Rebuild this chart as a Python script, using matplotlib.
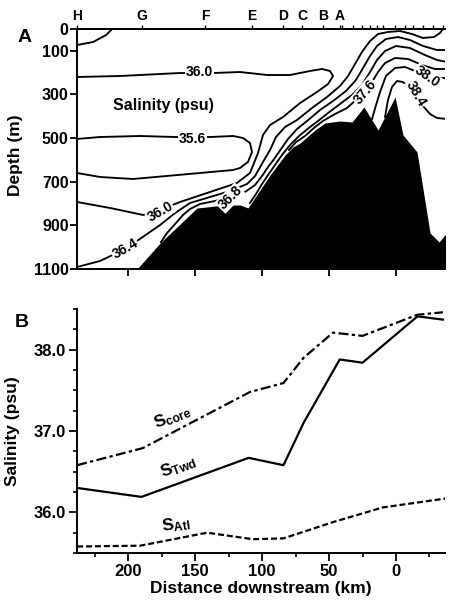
import matplotlib
matplotlib.use('Agg')
import matplotlib.pyplot as plt
from matplotlib.ticker import FixedLocator, FormatStrFormatter, MultipleLocator

plt.rcParams['font.family'] = ['Liberation Sans', 'DejaVu Sans']
plt.rcParams['font.weight'] = 'bold'
plt.rcParams['mathtext.fontset'] = 'custom'
plt.rcParams['mathtext.rm'] = 'Liberation Sans:bold'
plt.rcParams['mathtext.bf'] = 'Liberation Sans:bold'
plt.rcParams['mathtext.it'] = 'Liberation Sans:bold'

# ---------------- data ----------------
dist_lim = (238.1, -36.6)
depth_lim = (1100, 0)
sal_lim = (35.5, 38.5)
depth_ticks = [0, 100, 300, 500, 700, 900, 1100]
dist_ticks = [200, 150, 100, 50, 0]
sal_ticks = [36.0, 37.0, 38.0]

station_km = [238.0, 189.6, 142.5, 107.5, 84.3, 70.2, 54.5, 41.8]
station_names = ['H', 'G', 'F', 'E', 'D', 'C', 'B', 'A']
extra_station_km = [40.3, 32.1, 25.4, 19.4, 14.2, 9.7, 0.7, -6.7, -12.7, -20.1, -27.6, -35.1]

# bathymetry (black)
bathy_km = [193.3, 176.1, 148.5, 127.6, 116.4, 110.5, 94.0, 82.8, 76.9, 71.6, 60.4,
            53.0, 41.8, 32.8, 23.9, 13.4, 0.7, -5.2, -15.7, -25.4, -32.1, -41.8]
bathy_depth = [1100, 980.8, 820.4, 806.6, 806.6, 820.4, 669.1, 577.5, 540.8, 522.5, 462.9,
               430.8, 421.6, 426.2, 357.5, 462.9, 311.6, 485.8, 563.7, 935.0, 976.2, 907.4]

# salinity contours (psu), read from the section
c_surf_km = [238.1, 226.1, 216.4, 211.9]
c_surf_depth = [73.3, 59.6, 27.5, 0.0]

c356_km = [238.1, 220.9, 191.1, 164.9, 138.8, 121.6, 114.2, 109.0, 107.5, 110.5, 116.4,
           121.6, 146.3, 196.3, 220.9, 238.1]
c356_depth = [504.1, 495.0, 490.4, 495.0, 495.0, 490.4, 499.5, 522.5, 563.7, 609.5, 637.0,
              646.2, 660.0, 687.5, 678.3, 660.0]

c360_km = [238.1, 206.0, 161.2, 136.6, 116.4, 96.3, 79.1, 64.2, 55.2, 49.3, 47.0, 50.7,
           59.0, 71.6, 84.3, 94.0, 99.3, 103.0, 109.0, 118.7, 138.8, 161.2, 176.1, 188.8,
           213.4, 238.1]
c360_depth = [220.0, 215.4, 201.7, 201.7, 197.1, 210.8, 210.8, 192.5, 183.3, 192.5, 215.4,
              252.1, 288.7, 339.1, 403.3, 440.0, 485.8, 568.3, 660.0, 705.8, 747.0, 792.9,
              829.5, 852.4, 820.4, 792.9]

c364_km = [238.1, 220.9, 202.2, 185.8, 176.1, 164.9, 153.7, 138.8, 123.9, 111.2, 105.2,
           99.3, 94.0, 89.6, 82.8, 73.9, 62.7, 51.5, 41.8, 35.8, 30.6, 25.4, 19.4, 13.4,
           6.0, -3.0, -11.9, -20.1, -28.4, -32.8, -35.1]
c364_depth = [1090.8, 1063.3, 1008.3, 939.6, 898.3, 843.3, 797.4, 770.0, 742.5, 710.4,
              673.7, 609.5, 554.5, 495.0, 449.1, 417.1, 362.1, 311.6, 261.2, 215.4, 160.4,
              105.4, 55.0, 22.9, 13.7, 9.2, 22.9, 41.2, 36.7, 18.3, 0.0]

c368_km = [175.4, 170.9, 164.9, 159.0, 153.7, 146.3, 135.1, 123.9, 112.7, 105.2, 100.0,
           95.5, 91.0, 85.8, 80.6, 73.9, 66.4, 56.7, 47.0, 37.3, 29.9, 24.6, 19.4, 14.2,
           7.5, -1.5, -10.4, -20.1, -30.6, -38.1]
c368_depth = [976.2, 935.0, 893.7, 852.4, 825.0, 802.0, 788.3, 770.0, 747.0, 715.0, 673.7,
              632.5, 595.8, 550.0, 504.1, 458.3, 421.6, 371.2, 330.0, 284.1, 233.7, 178.7,
              123.7, 77.9, 45.8, 36.7, 50.4, 77.9, 96.2, 96.2]

c372_km = [109.0, 104.5, 100.0, 95.5, 90.3, 85.1, 79.1, 72.4, 64.2, 58.2, 50.7, 41.8, 32.8,
           25.4, 19.4, 14.2, 8.2, 0.0, -10.4, -21.6, -30.6, -38.1]
c372_depth = [797.4, 756.2, 710.4, 669.1, 623.3, 577.5, 531.6, 490.4, 449.1, 421.6, 385.0,
              343.7, 302.5, 256.6, 197.1, 142.1, 100.8, 77.9, 87.1, 119.2, 142.1, 151.2]

c376_km = [79.9, 74.6, 67.9, 60.4, 54.5, 45.5, 36.6, 29.9, 23.1, 17.9, 13.4, 8.2, 0.7,
           -9.0, -19.4, -29.1, -38.1]
c376_depth = [554.5, 517.9, 490.4, 449.1, 421.6, 389.5, 362.1, 325.4, 288.7, 242.9, 197.1,
              155.8, 132.9, 137.5, 165.0, 183.3, 183.3]

c380_km = [17.9, 14.9, 11.9, 7.5, 0.7, -6.7, -14.2, -23.1, -30.6, -38.1]
c380_depth = [412.5, 348.3, 288.7, 215.4, 178.7, 174.2, 192.5, 220.0, 224.6, 224.6]

c384_km = [8.2, 6.0, 3.0, -0.7, -5.2, -9.7, -14.9, -20.1, -25.4, -30.6, -38.1]
c384_depth = [403.3, 325.4, 265.8, 238.3, 242.9, 270.4, 297.9, 352.9, 389.5, 407.9, 412.5]

# contour labels: text, distance, depth, rotation
clabel_text = ['36.0', '35.6', '36.0', '36.4', '36.8', '37.6', '38.0', '38.4']
clabel_km = [147.0, 152.2, 176.1, 202.2, 123.9, 23.1, -23.1, -14.9]
clabel_depth = [197.1, 504.1, 838.7, 1008.3, 774.5, 288.7, 220.0, 297.9]
clabel_rot = [0, 0, 30, 30, 45, 50, -35, -60]

# panel B salinity series
dist_core = [238, 189, 109, 84, 69, 47, 25, -16, -35]
s_core = [36.58, 36.79, 37.48, 37.59, 37.90, 38.21, 38.17, 38.43, 38.46]
dist_twd = [238, 190, 110, 84, 69, 42, 25, -16, -35]
s_twd = [36.30, 36.19, 36.67, 36.58, 37.10, 37.88, 37.84, 38.41, 38.37]
dist_atl = [238, 191, 141, 107, 84, 47, 10, -37]
s_atl = [35.58, 35.59, 35.75, 35.67, 35.68, 35.88, 36.06, 36.17]

# ---------------- figure ----------------
fig = plt.figure(figsize=(4.52, 6.03), dpi=100)
ax1 = fig.add_axes([0.1704, 0.5539, 0.8142, 0.398])
ax2 = fig.add_axes([0.1704, 0.0829, 0.8142, 0.4046])

lw = 1.35
# ---- panel A
ax1.fill_between(bathy_km, bathy_depth, 1100, color='black', lw=0, zorder=2)
for xs, ys in [(c_surf_km, c_surf_depth), (c356_km, c356_depth), (c360_km, c360_depth),
               (c364_km, c364_depth), (c368_km, c368_depth), (c372_km, c372_depth),
               (c376_km, c376_depth), (c380_km, c380_depth), (c384_km, c384_depth)]:
    ax1.plot(xs, ys, color='black', lw=lw, zorder=3, solid_joinstyle='round')
for t, xk, yd, r in zip(clabel_text, clabel_km, clabel_depth, clabel_rot):
    ax1.text(xk, yd, t, fontsize=10, fontweight='bold', rotation=r, ha='center',
             va='center', rotation_mode='anchor', zorder=5,
             bbox=dict(facecolor='white', edgecolor='none', pad=0.6))
ax1.text(173.9, 352.9, 'Salinity (psu)', fontsize=11.5, fontweight='bold',
         ha='center', va='center')

ax1.set_xlim(*dist_lim)
ax1.set_ylim(*depth_lim)
ax1.set_yticks(depth_ticks)
ax1.set_xticks(dist_ticks)
ax1.tick_params(axis='y', direction='out', length=5, width=1.3, labelsize=11.5, pad=1)
ax1.tick_params(axis='x', direction='out', length=5, width=1.3, labelbottom=False)
ax1.spines['right'].set_visible(False)
for s in ['left', 'top', 'bottom']:
    ax1.spines[s].set_linewidth(1.4)
ax1.set_ylabel('Depth (m)', fontsize=12.5, fontweight='bold')
ax1.yaxis.set_label_coords(-0.148, 0.475)

sec = ax1.secondary_xaxis('top')
sec.set_xticks(station_km + extra_station_km,
               labels=station_names + [''] * len(extra_station_km))
sec.tick_params(direction='out', length=3, width=1.0, labelsize=10, pad=1)
sec.spines['top'].set_linewidth(1.4)

# ---- panel B
l1, = ax2.plot(dist_core, s_core, color='black', lw=1.6)
l1.set_dashes([4.5, 1.5, 1.5, 1.5])
ax2.plot(dist_twd, s_twd, color='black', lw=1.6)
l3, = ax2.plot(dist_atl, s_atl, color='black', lw=1.6)
l3.set_dashes([2.7, 1.3])

ax2.text(166.4, 37.17, r'$\mathbf{S}_{\mathbf{core}}$', fontsize=12.5, rotation=22,
         ha='center', va='center')
ax2.text(162.7, 36.56, r'$\mathbf{S}_{\mathbf{Twd}}$', fontsize=12.5, rotation=20,
         ha='center', va='center')
ax2.text(164.2, 35.85, r'$\mathbf{S}_{\mathbf{Atl}}$', fontsize=12.5, rotation=8,
         ha='center', va='center')

ax2.set_xlim(*dist_lim)
ax2.set_ylim(*sal_lim)
ax2.xaxis.set_major_locator(FixedLocator(dist_ticks))
ax2.xaxis.set_minor_locator(MultipleLocator(25))
ax2.yaxis.set_major_locator(FixedLocator(sal_ticks))
ax2.yaxis.set_minor_locator(MultipleLocator(0.25))
ax2.yaxis.set_major_formatter(FormatStrFormatter('%.1f'))
ax2.tick_params(which='major', direction='out', length=6, width=1.3, labelsize=12, pad=2)
ax2.tick_params(which='minor', direction='out', length=3, width=1.2)
ax2.spines['right'].set_visible(False)
ax2.spines['top'].set_visible(False)
for s in ['left', 'bottom']:
    ax2.spines[s].set_linewidth(1.4)
ax2.set_xlabel('Distance downstream (km)', fontsize=12.5, fontweight='bold', labelpad=1)
ax2.set_ylabel('Salinity (psu)', fontsize=12.5, fontweight='bold')
ax2.yaxis.set_label_coords(-0.155, 0.5)

fig.text(0.055, 0.937, 'A', fontsize=14, fontweight='bold', ha='center', va='center')
fig.text(0.049, 0.466, 'B', fontsize=14, fontweight='bold', ha='center', va='center')

fig.savefig('out.png', dpi=100)
